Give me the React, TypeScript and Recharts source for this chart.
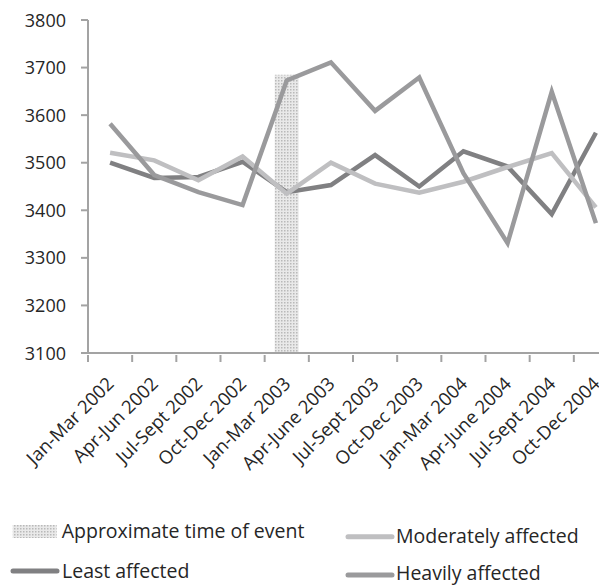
import React from "react";
import { ComposedChart, Line, Bar, XAxis, YAxis, Legend } from "recharts";

const categories = [
  "Jan-Mar 2002",
  "Apr-Jun 2002",
  "Jul-Sept 2002",
  "Oct-Dec 2002",
  "Jan-Mar 2003",
  "Apr-June 2003",
  "Jul-Sept 2003",
  "Oct-Dec 2003",
  "Jan-Mar 2004",
  "Apr-June 2004",
  "Jul-Sept 2004",
  "Oct-Dec 2004",
];
const leastAffected = [3500, 3468, 3470, 3502, 3438, 3453, 3516, 3450, 3524, 3492, 3392, 3563];
const moderatelyAffected = [3521, 3505, 3463, 3513, 3435, 3500, 3456, 3437, 3460, 3491, 3520, 3406];
const heavilyAffected = [3582, 3474, 3438, 3411, 3673, 3711, 3609, 3679, 3478, 3331, 3649, 3373];
const eventPeriods = ["Jan-Mar 2003"];
const eventTop = 3685;
const yTicks = [3100, 3200, 3300, 3400, 3500, 3600, 3700, 3800];

const data = categories.map((c, i) => ({
  name: c,
  least: leastAffected[i],
  moderate: moderatelyAffected[i],
  heavy: heavilyAffected[i],
  event: eventPeriods.includes(c) ? eventTop : null,
}));

const CHART_W = 620;
const CHART_H = 578;
const MARGIN = { top: 12, right: 10, left: 0, bottom: 0 };
const YAXIS_W = 80;
const BAND = (CHART_W - MARGIN.left - MARGIN.right - YAXIS_W) / categories.length;

const AXIS = "#a3a3a3";
const TEXT = "#262626";
const FONT = "'Open Sans', sans-serif";
const C_LEAST = "#808082";
const C_MOD = "#bfbfc1";
const C_HEAVY = "#9a9a9c";

const DotPattern = ({ id }: { id: string }) => (
  <pattern id={id} width="3" height="3" patternUnits="userSpaceOnUse">
    <rect width="3" height="3" fill="#e9e9e9" />
    <rect width="1.5" height="1.5" fill="#b9b9b9" />
  </pattern>
);

const XTick = (props: any) => {
  const { x, y, payload } = props;
  const bx = x - BAND / 2;
  const ax = x + 5;
  const ay = y + 30;
  return (
    <g>
      <line x1={bx} y1={y} x2={bx} y2={y + 7} stroke={AXIS} strokeWidth={2} />
      <text
        x={ax}
        y={ay}
        transform={`rotate(-45 ${ax} ${ay})`}
        textAnchor="end"
        fontSize={18.5}
        fontFamily={FONT}
        fill={TEXT}
      >
        {payload.value}
      </text>
    </g>
  );
};

const YTick = (props: any) => {
  const { y, payload } = props;
  return (
    <text
      x={58}
      y={y}
      dy={6.5}
      textAnchor="end"
      fontSize={18}
      fontFamily={FONT}
      fill={TEXT}
    >
      {payload.value}
    </text>
  );
};

const LegendBox = () => {
  const txt: React.CSSProperties = {
    position: "absolute",
    fontFamily: FONT,
    fontSize: 19.5,
    color: TEXT,
    lineHeight: "20px",
    whiteSpace: "nowrap",
  };
  return (
    <div style={{ position: "relative", width: 599, height: 100 }}>
      <svg width={599} height={100} style={{ position: "absolute", left: 0, top: 0 }}>
        <defs>
          <DotPattern id="dotsLegend" />
        </defs>
        <rect x={4.7} y={39} width={44} height={13} fill="url(#dotsLegend)" />
        <line x1={5} y1={85} x2={49} y2={85} stroke={C_LEAST} strokeWidth={5} strokeLinecap="round" />
        <line x1={340} y1={50.7} x2={384} y2={50.7} stroke={C_MOD} strokeWidth={5} strokeLinecap="round" />
        <line x1={340} y1={89} x2={384} y2={89} stroke={C_HEAVY} strokeWidth={5} strokeLinecap="round" />
      </svg>
      <span style={{ ...txt, left: 53.7, top: 45 - 10 }}>Approximate time of event</span>
      <span style={{ ...txt, left: 54, top: 85 - 10 }}>Least affected</span>
      <span style={{ ...txt, left: 388, top: 50 - 10 }}>Moderately affected</span>
      <span style={{ ...txt, left: 388, top: 87 - 10 }}>Heavily affected</span>
    </div>
  );
};

export default function App() {
  return (
    <div style={{ width: 599, height: CHART_H, overflow: "hidden" }}>
      <ComposedChart width={CHART_W} height={CHART_H} data={data} margin={MARGIN}>
        <defs>
          <DotPattern id="dotsBar" />
        </defs>
        <XAxis
          dataKey="name"
          interval={0}
          height={133}
          tickLine={false}
          tickSize={0}
          axisLine={{ stroke: AXIS, strokeWidth: 2 }}
          tick={<XTick />}
        />
        <YAxis
          domain={[3100, 3800]}
          ticks={yTicks}
          width={YAXIS_W}
          tickSize={7}
          axisLine={{ stroke: AXIS, strokeWidth: 2 }}
          tickLine={{ stroke: AXIS, strokeWidth: 2 }}
          tick={<YTick />}
          allowDataOverflow
        />
        <Legend
          verticalAlign="bottom"
          content={() => <LegendBox />}
          wrapperStyle={{ left: 0, top: 478, width: 599, height: 100 }}
        />
        <Bar dataKey="event" barSize={24} fill="url(#dotsBar)" isAnimationActive={false} />
        <Line dataKey="least" stroke={C_LEAST} strokeWidth={4.5} dot={false} isAnimationActive={false} />
        <Line dataKey="moderate" stroke={C_MOD} strokeWidth={4.5} dot={false} isAnimationActive={false} />
        <Line dataKey="heavy" stroke={C_HEAVY} strokeWidth={4.5} dot={false} isAnimationActive={false} />
      </ComposedChart>
    </div>
  );
}
